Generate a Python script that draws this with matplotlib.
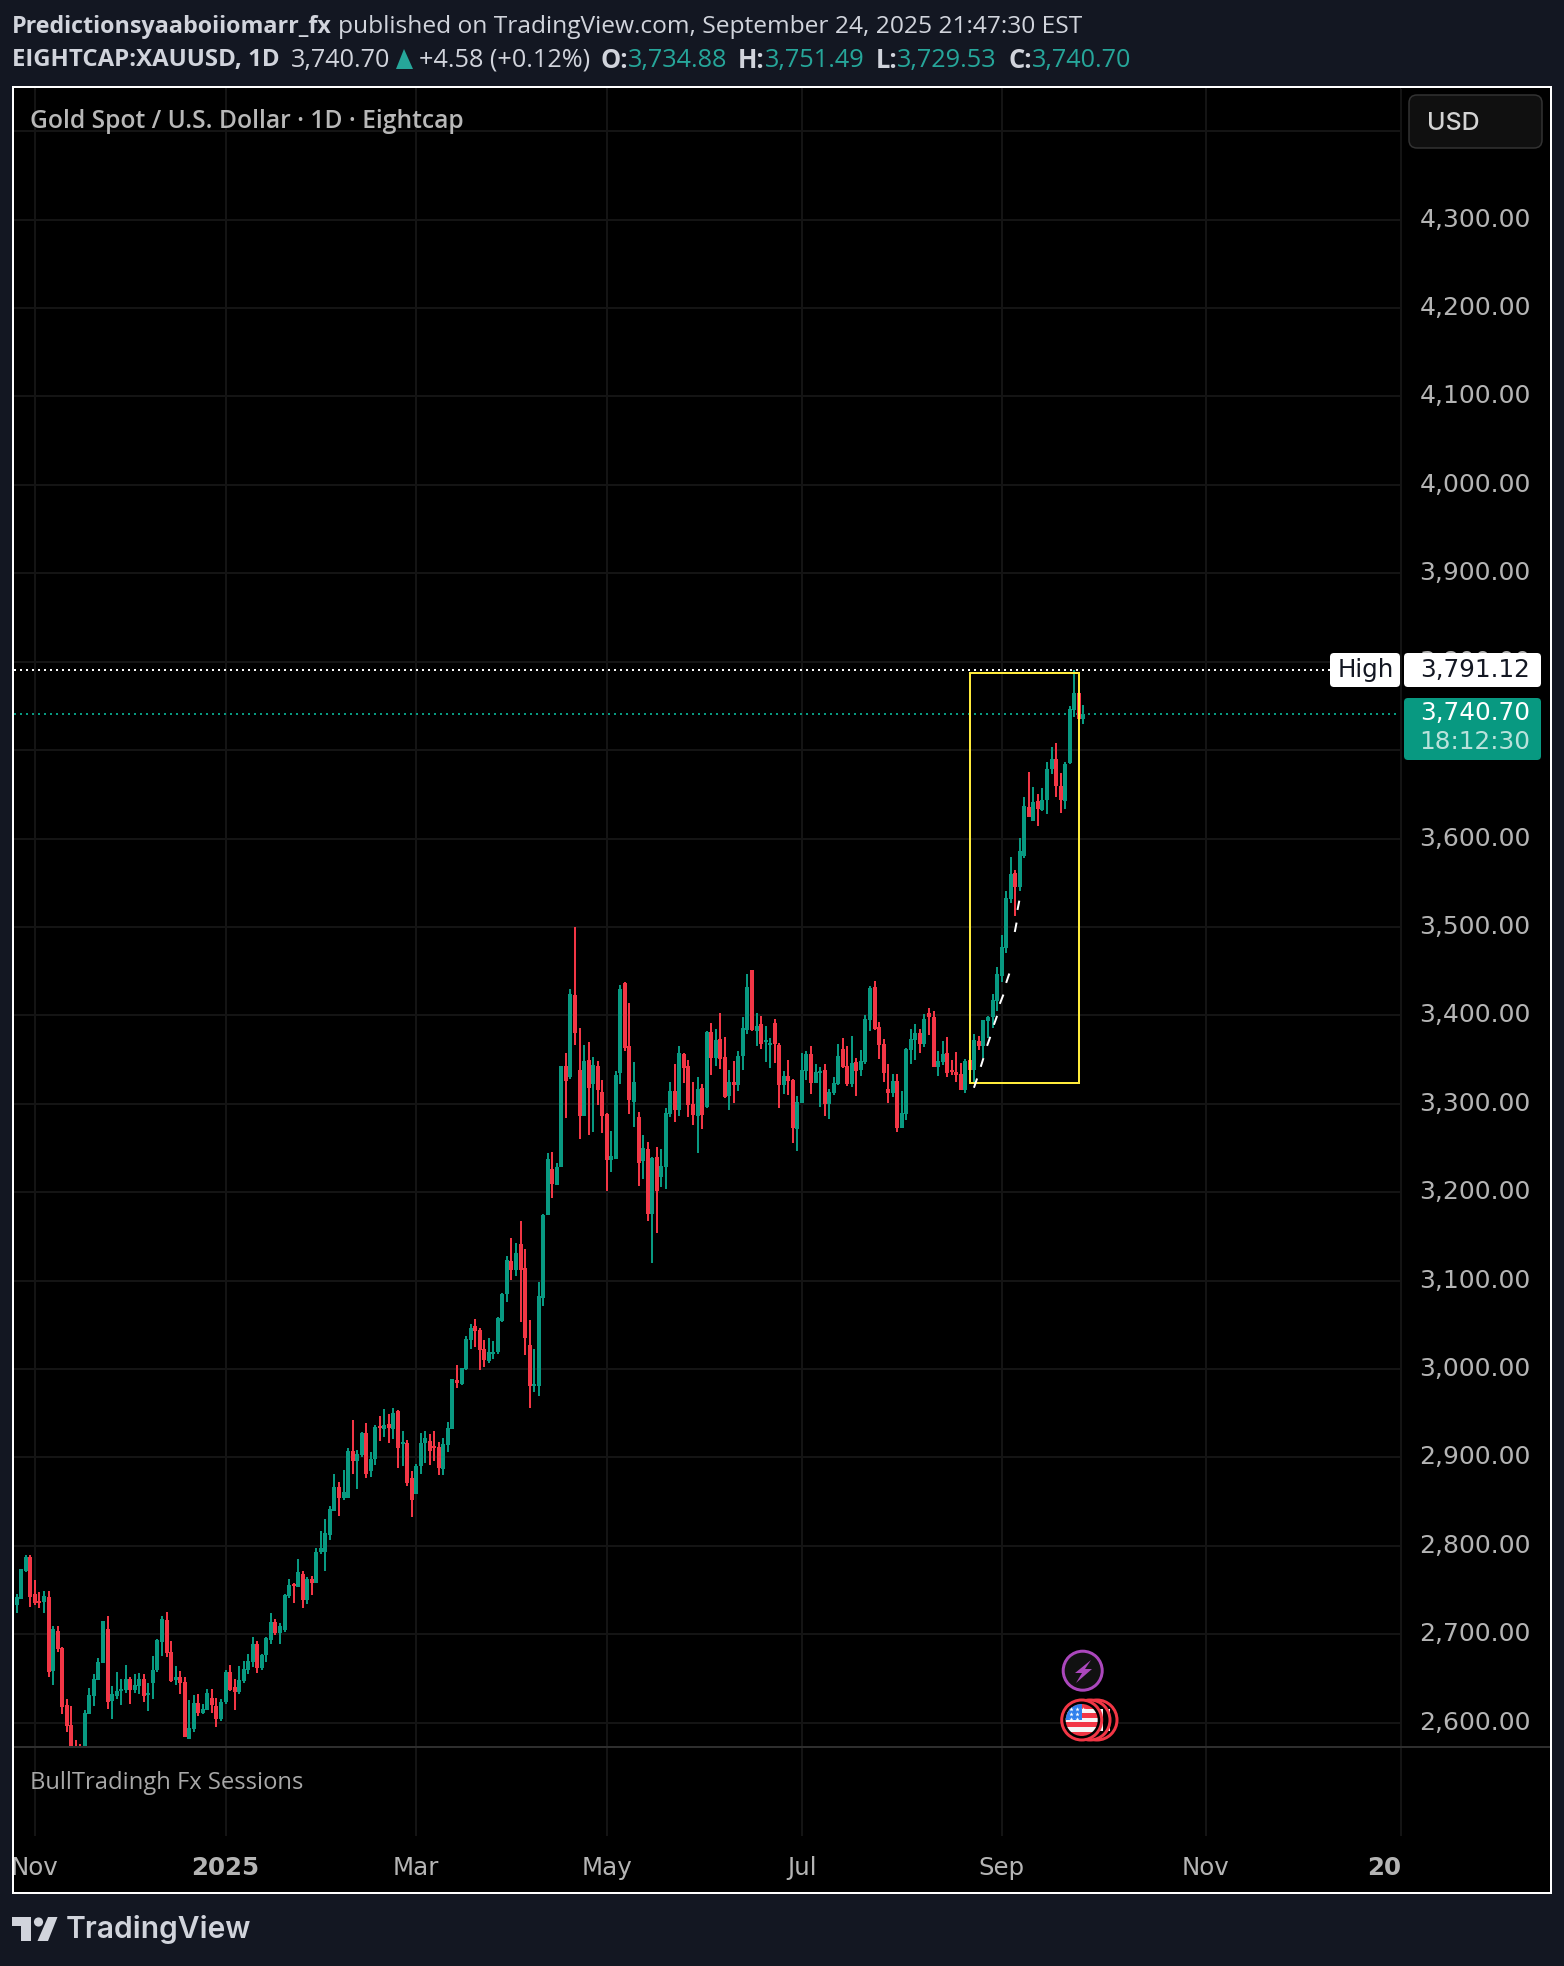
import numpy as np
import matplotlib
matplotlib.use("Agg")
import matplotlib.pyplot as plt
from matplotlib.patches import Rectangle, Circle, Polygon, FancyBboxPatch

W, H = 1564, 1966

opens = [
    2733,2733,2739.7,2771.8,2787.2,2745.4,2737.5,2736.4,2742,2658.4,
    2703.6,2684.4,2620,2597.4,2570,2570,2568,2609.8,2630.2,2648.2,
    2667.4,2705.9,2624.5,2630.2,2635.8,2636.9,2649.4,2636.9,2641.5,2649.4,
    2631.3,2644.8,2659.5,2691.2,2716,2679.9,2648.2,2651.6,2646,2581.6,
    2592.9,2622.3,2611,2614.3,2627.9,2618.9,2604.2,2623.4,2657.3,2640.3,
    2634.7,2647.1,2659.5,2668.6,2688.9,2661.8,2676.5,2693.4,2713.8,2701.3,
    2704.7,2743.1,2756.7,2753.3,2768,2738.6,2762.4,2757.8,2792.9,2792.9,
    2812,2839.4,2866.6,2854.1,2854.1,2907.2,2895.9,2902.7,2927.6,2884.6,
    2898.2,2935.5,2932.1,2937.7,2932.1,2952.4,2915.1,2916.3,2876.7,2858.7,
    2890.3,2916.3,2918.5,2912.9,2911.8,2886.9,2914,2932.1,2987.5,2983,
    3000,3032.6,3048.5,3044,3022.5,3008.9,3016.8,3019.1,3054.1,3084.6,
    3121.9,3111.7,3141.1,3114,3027,2980.7,2980.7,3080.1,3173.9,3225.8,
    3207.8,3228.4,3342.5,3330.1,3422.7,3338,3286,3349.3,3322.2,3342.5,
    3313.1,3288.3,3236.3,3237.5,3334.6,3436.3,3365.1,3301.8,3284.9,3235.2,
    3248.4,3175,3239.4,3216.8,3228.4,3288.3,3314.3,3292.8,3356,3342.5,
    3299.6,3286,3317.7,3296.2,3380.9,3351.5,3373,3352.7,3308.6,3324.4,
    3321,3353.8,3383.2,3450.9,3382,3389.9,3369.6,3366.2,3391.1,3366.2,
    3321,3331.2,3326.7,3271.4,3300.7,3336.9,3356,3323.3,3334.6,3338,
    3299.6,3312,3322.2,3361.7,3342.5,3322.2,3347,3338,3347,3394.5,
    3431.7,3386.6,3367.4,3316.5,3312,3325.6,3272.5,3288.3,3360.6,3371.9,
    3379.8,3367.4,3402.4,3397.9,3341.4,3347.1,3357.3,3338,3335.8,3333.5,
    3315.5,3349.4,3338,3370.8,3365.2,3393.4,3397.9,3416,3444.2,3475.9,
    3531.3,3560.6,3544.8,3579.8,3635.2,3619.4,3642,3631.8,3643.1,3678.1,
    3689.4,3658.9,3642,3684.9,3744.8,3764,3734.88,
]
highs = [
    2746,2745.4,2773.6,2789.5,2789.5,2761.2,2747.3,2748.8,2748.8,2709.2,
    2709.2,2685.5,2626.8,2618.9,2580.4,2575.9,2614.3,2639.2,2655,2673.1,
    2714.9,2720.5,2641.5,2657.3,2649.4,2665.2,2651.6,2655,2656.1,2655,
    2644.8,2675.4,2694.6,2720.5,2725.1,2692.3,2664,2658.4,2651.6,2625.6,
    2631.3,2632.4,2621.1,2638.1,2638.1,2627.9,2626.8,2659.5,2665.2,2649.4,
    2664,2669.7,2677.6,2696.8,2692.3,2677.6,2696.8,2724,2717.2,2712.6,
    2745.4,2762.4,2757.8,2784.9,2771.4,2764.6,2765.7,2797.4,2816.6,2830.1,
    2844.8,2881.3,2872.2,2885.8,2910.6,2942.3,2908.4,2928.7,2938.9,2906.1,
    2936.6,2946.8,2954.7,2949,2955.8,2953.6,2929.8,2919.7,2884.6,2892.6,
    2927.6,2929.8,2926.4,2929.8,2917.4,2921.9,2940,2988.6,3004.4,3001,
    3037.2,3050.7,3056.4,3046.2,3032.6,3034.9,3031.5,3058.6,3085.8,3127.6,
    3147.9,3142.2,3167.1,3135.5,3055.2,3022.5,3098.2,3175,3243.9,3245,
    3232.6,3342.5,3357.2,3429.5,3499.5,3385.4,3366.2,3369.6,3352.7,3348.2,
    3326.7,3289.4,3269.1,3336.9,3434,3437.4,3413.7,3347,3290.5,3264.6,
    3256.3,3239.7,3250.7,3248.4,3295,3324.4,3344.8,3365.1,3357.2,3349.3,
    3324.4,3330.1,3322.2,3382,3391.1,3384.3,3402.4,3375.3,3338,3348.2,
    3359.4,3397.8,3446.4,3450.9,3402.4,3399,3387.7,3374.1,3395.6,3368.5,
    3336.9,3349.3,3327.8,3308.6,3357.2,3359.4,3365.1,3344.8,3341.4,3344.8,
    3316.5,3330.1,3367.4,3374.1,3365.1,3376.4,3351.5,3360.6,3400.1,3432.9,
    3438.5,3392.2,3373,3344.8,3333.5,3333.5,3314.3,3362.8,3384.3,3389.9,
    3384.3,3401.2,3408.1,3404.7,3359.5,3370.8,3375.3,3349.4,3358.4,3345.9,
    3350.5,3352.7,3378.7,3376.5,3394.5,3399.1,3423.9,3454.4,3490.6,3540.3,
    3578.7,3564,3600.2,3646.5,3674.7,3657.8,3649.9,3656.7,3686,3703,
    3707.5,3673.6,3686,3749.3,3791.12,3778.7,3751.49,
]
lows = [
    2730,2724.3,2739.7,2770.3,2730.7,2733,2729.6,2724,2651.6,2642.6,
    2679.9,2609.8,2589.5,2560,2558,2556,2560,2609.8,2618.9,2648.2,
    2667.4,2615.5,2604.2,2626.8,2620,2633.5,2621.1,2633.5,2632.4,2623.4,
    2613.2,2626.8,2657.3,2675.4,2674.2,2646,2642.6,2632.4,2583.8,2581.6,
    2589.5,2607.6,2609.8,2614.3,2611,2595.1,2601.9,2621.1,2635.8,2614.3,
    2632.4,2644.8,2655,2662.9,2656.1,2659.5,2668.6,2688.9,2699.1,2688.9,
    2702.5,2740.9,2735.2,2753.3,2729.6,2734.1,2744.3,2757.8,2790.6,2771.4,
    2806.4,2839.4,2833.8,2851.9,2854.1,2881.3,2864.3,2900.5,2876.7,2877.9,
    2891.4,2918.5,2923.1,2916.3,2920.8,2888,2890.3,2867.7,2832.7,2858.7,
    2881.3,2893.7,2891.4,2895.9,2880.1,2880.1,2906.1,2932.1,2978.4,2981.8,
    2998.8,3022.5,3024.8,2998.8,3002.1,3006.7,3011.2,3016.8,3053,3075.6,
    3100.4,3104.9,3053,3015.7,2955.8,2973.9,2969.4,3071,3173.9,3193.1,
    3207.8,3228.4,3283.8,3327.8,3366.2,3260.1,3286,3264.6,3268,3298.5,
    3266.8,3201.3,3222.8,3237.5,3322.2,3359.4,3288.3,3273.6,3207,3214.9,
    3167.1,3119.6,3153.5,3205.5,3203.6,3284.9,3279.3,3286,3323.3,3284.9,
    3275.9,3244.2,3271.4,3295,3332.3,3342.5,3339.1,3306.4,3292.8,3300.7,
    3314.3,3338,3378.6,3382,3365.1,3361.7,3347,3340.2,3345.9,3295,
    3310.9,3309.8,3255.5,3246.5,3300.7,3326.7,3310.9,3323.3,3296.2,3286,
    3282.6,3309.8,3321,3340.2,3319.9,3318.8,3308.6,3331.2,3344.8,3382,
    3383.2,3350.4,3324.4,3300.7,3307.5,3268,3272.5,3281.5,3344.8,3349.3,
    3357.2,3364,3377.6,3341.4,3331.3,3343.7,3330.1,3332.4,3324.5,3315.5,
    3312.1,3324.5,3323.4,3360.6,3351.6,3374.2,3385.5,3404.7,3437.5,3470.2,
    3526.7,3512,3540.3,3577.6,3623.9,3619.4,3613.7,3630.7,3627.3,3672.5,
    3646.5,3628.4,3632.9,3683.8,3736.9,3717.7,3729.53,
]
closes = [
    2742,2742,2773.6,2787.2,2742,2735.2,2735.2,2743.1,2657.3,2705.9,
    2683.3,2617.7,2596.3,2568,2562,2562,2611,2631.3,2649.4,2668.6,
    2714.9,2623.4,2632.4,2635.8,2638.1,2649.4,2636.9,2642.6,2649.4,2630.2,
    2633.5,2659.5,2693.4,2717.2,2678.7,2647.1,2651.6,2644.8,2583.8,2594,
    2622.3,2611,2615.5,2633.5,2620,2604.2,2623.4,2657.3,2636.9,2634.7,
    2648.2,2660.7,2669.7,2688.9,2661.8,2676.5,2695.7,2713.8,2701.3,2709.2,
    2744.3,2755.6,2754.4,2770.3,2738.6,2762.4,2757.8,2792.9,2797.4,2814.3,
    2841.4,2866.6,2854.1,2860.9,2907.2,2895.9,2903.9,2927.6,2881.3,2898.2,
    2934.4,2933.2,2936.6,2933.2,2950.2,2910.6,2917.4,2871.1,2851.9,2890.3,
    2916.3,2921.9,2907.2,2910.6,2888,2915.1,2933.2,2988.6,2984.1,3001,
    3033.8,3046.2,3042.8,3021.4,3010,3019.1,3019.1,3057.5,3084.6,3123,
    3111.7,3130.9,3111.7,3034.9,2980.7,2983,3082.4,3173.9,3237.1,3208.9,
    3228.1,3342.5,3325.6,3423.8,3379.8,3286,3348.2,3317.7,3343.6,3315.4,
    3286,3236.3,3240.9,3332.3,3429.5,3362.8,3304.1,3324.4,3233,3249.9,
    3175,3238.3,3201,3229.2,3289.4,3314.3,3292.8,3357.2,3340.2,3298.5,
    3287.2,3316.5,3287.2,3380.9,3351.5,3371.9,3350.4,3307.5,3324.4,3321,
    3353.8,3385.4,3431.7,3383.2,3387.7,3367.4,3371.9,3368.5,3367.4,3321,
    3331.2,3325.6,3272.5,3301.8,3338,3356,3323.3,3335.7,3336.9,3299.6,
    3313.1,3323.3,3353.8,3341.4,3322.2,3345.9,3336.9,3348.2,3395.6,3430.6,
    3384.3,3366.2,3334.6,3312,3325.6,3272.5,3289.4,3361.7,3373,3379.8,
    3367.4,3395.6,3397.9,3341.4,3348.2,3356.1,3334.6,3335.8,3332.4,3315.5,
    3348.2,3338,3372,3365.2,3394.5,3397.9,3417.1,3446.5,3477,3532.4,
    3559.5,3544.8,3585.5,3636.3,3623.9,3640.8,3632.9,3643.1,3678.1,3689.4,
    3658.9,3643.1,3683.8,3745.9,3764,3734.6,3740.70,
]

price_ticks = list(range(2600, 4500, 100))
time_tick_bars = [6, 48, 90, 132, 175, 219, 264, 307]
time_tick_labels = ["Nov", "2025", "Mar", "May", "Jul", "Sep", "Nov", "20"]

high_price = 3791.12
last_price = 3740.70

box_bars = [212, 236]
box_prices = [3323.3, 3787.6]

# white dashes drawn next to the rally: bar, price, bar, price
dash_x0 = [212.9, 214.4, 215.8, 217.3, 218.6, 220.0, 221.9, 222.5]
dash_y0 = [3318.1, 3341.8, 3365.5, 3389.3, 3413.0, 3436.7, 3494.3, 3519.2]
dash_x1 = [213.6, 215.0, 216.5, 218.0, 219.4, 220.7, 222.3, 222.9]
dash_y1 = [3328.6, 3351.6, 3375.7, 3399.4, 3423.5, 3447.3, 3504.9, 3529.7]

BG = "#131722"
GRID = "#141414"
GREEN = "#089981"
RED = "#F23645"
LABEL = "#b4b4b4"
HEAD = "#d1d4dc"
TEAL = "#26a69a"
SANS = "Open Sans"

PANE_L, PANE_R, PANE_T, PANE_B = 14, 1401, 88, 1746.5
SUB_B = 1836
PX = 72 / 100


def rect(l, t, r, b):
    return [l / W, 1 - b / H, (r - l) / W, (b - t) / H]


def price_at(y):
    return 2600 + (1722.7 - y) / 0.8842


def bar_at(x):
    return (x - 330) / 4.54 + 71


fig = plt.figure(figsize=(W / 100, H / 100), dpi=100, facecolor=BG)

# black backing for the framed chart
back = fig.add_axes([0, 0, 1, 1], zorder=0)
back.set_xlim(0, W)
back.set_ylim(H, 0)
back.axis("off")
back.add_patch(Rectangle((13, 87), 1537, 1805, facecolor="black", edgecolor="none"))

ax = fig.add_axes(rect(PANE_L, PANE_T, PANE_R, PANE_B), zorder=1, facecolor="none")
ax.set_xlim(bar_at(PANE_L), bar_at(PANE_R))
ax.set_ylim(price_at(PANE_B), price_at(PANE_T))

bars = np.arange(1, len(opens) + 1)
o = np.array(opens)
c = np.array(closes)
colors = [GREEN if a >= b else RED for a, b in zip(c, o)]

ax.vlines(bars, lows, highs, colors=colors, linewidth=2 * PX, zorder=3)
ax.bar(bars, np.abs(c - o), bottom=np.minimum(o, c), width=0.88, color=colors, linewidth=0, zorder=3)

ax.axhline(high_price, color="white", linestyle=(0, (1, 2)), linewidth=2 * PX, zorder=4)
ax.axhline(last_price, color=GREEN, linestyle=(0, (1, 2)), linewidth=2 * PX, zorder=2)

ax.add_patch(Rectangle((box_bars[0], box_prices[0]), box_bars[1] - box_bars[0], box_prices[1] - box_prices[0],
                       fill=False, edgecolor="#FFEB3B", linewidth=2 * PX, zorder=4))
for x0, y0, x1, y1 in zip(dash_x0, dash_y0, dash_x1, dash_y1):
    ax.plot([x0, x1], [y0, y1], color="white", linewidth=2 * PX, solid_capstyle="butt", zorder=5)

ax.set_yticks(price_ticks)
ax.set_yticklabels(["" if p == 4400 else f"{p:,.2f}" for p in price_ticks], va="center")
ax.yaxis.tick_right()
ax.set_xticks(time_tick_bars)
ax.set_xticklabels([])
ax.grid(True, color=GRID, linewidth=2 * PX)
ax.set_axisbelow(True)
ax.tick_params(axis="both", length=0)
ax.tick_params(axis="y", labelsize=25 * PX, labelcolor=LABEL, pad=18.5 * PX)
for s in ax.spines.values():
    s.set_visible(False)

# lower pane, empty apart from its title and the vertical grid
sub = fig.add_axes(rect(PANE_L, PANE_B, PANE_R, SUB_B), zorder=1, facecolor="none")
sub.set_xlim(ax.get_xlim())
sub.set_yticks([])
sub.set_xticks(time_tick_bars)
sub.set_xticklabels(time_tick_labels)
sub.grid(True, axis="x", color=GRID, linewidth=2 * PX)
sub.tick_params(axis="x", length=0, labelsize=24.5 * PX, labelcolor=LABEL, pad=20 * PX)
for s in sub.spines.values():
    s.set_visible(False)
for lab in sub.get_xticklabels():
    if lab.get_text() in ("2025", "20"):
        lab.set_fontweight("bold")
    if lab.get_text() == "20":
        lab.set_ha("right")

# everything placed by pixel: header, frame, tags, logo
top = fig.add_axes([0, 0, 1, 1], zorder=5, facecolor="none")
top.set_xlim(0, W)
top.set_ylim(H, 0)
top.axis("off")


def label(x, y, s, size, color, ha="left", weight="normal", family=SANS, alpha=None):
    return top.text(x, y, s, fontsize=size * PX, color=color, ha=ha, va="center", fontweight=weight,
                    family=family, alpha=alpha)


def run(x, y, parts):
    # text pieces one after the other on a line
    rend = fig.canvas.get_renderer()
    for s, size, color, weight, gap in parts:
        t = label(x, y, s, size, color, weight=weight)
        x = t.get_window_extent(rend).x1 + gap
    return x


top.plot([PANE_R, PANE_R], [PANE_T + 1, SUB_B], color=GRID, linewidth=2 * PX, solid_capstyle="butt")
top.plot([14, 1550], [PANE_B, PANE_B], color="#2e2e2e", linewidth=2 * PX, solid_capstyle="butt")
top.add_patch(Rectangle((13, 87), 1537.5, 1805.5, fill=False, edgecolor="white", linewidth=2 * PX))

run(12, 27, [("Predictionsyaaboiiomarr_fx", 23.3, HEAD, "bold", 6),
             ("published on TradingView.com, September 24, 2025 21:47:30 EST", 24.5, HEAD, "normal", 0)])
x_end = run(12, 60, [("EIGHTCAP:XAUUSD, 1D", 24, HEAD, "bold", 11), ("3,740.70", 25.3, HEAD, "normal", 5)])
top.add_patch(Polygon([[x_end + 1, 69], [x_end + 9, 49], [x_end + 18, 69]], facecolor=TEAL, edgecolor="none"))
run(x_end + 24, 60, [("+4.58 (+0.12%)", 25.3, HEAD, "normal", 10),
                     ("O:", 25.5, HEAD, "bold", 0), ("3,734.88", 25.3, TEAL, "normal", 11),
                     ("H:", 25.5, HEAD, "bold", 0), ("3,751.49", 25.3, TEAL, "normal", 11),
                     ("L:", 25.5, HEAD, "bold", 0), ("3,729.53", 25.3, TEAL, "normal", 11),
                     ("C:", 25.5, HEAD, "bold", 0), ("3,740.70", 25.3, TEAL, "normal", 0)])

label(30, 122, "Gold Spot / U.S. Dollar · 1D · Eightcap", 24.6, "#b8b8b8", weight="semibold")
label(30, 1783, "BullTradingh Fx Sessions", 23.8, "#a8a8a8", weight="normal")

top.add_patch(FancyBboxPatch((1409, 95), 133, 53, boxstyle="round,pad=0,rounding_size=8",
                             facecolor="#101010", edgecolor="#333333", linewidth=1.5 * PX))
label(1427, 123, "USD", 25, "#d4d4d4", family="Inter", weight="medium")

# high and last price tags
top.add_patch(FancyBboxPatch((1330, 653), 70, 34, boxstyle="round,pad=0,rounding_size=4",
                             facecolor="white", edgecolor="none"))
top.add_patch(FancyBboxPatch((1404, 653), 137, 34, boxstyle="round,pad=0,rounding_size=4",
                             facecolor="white", edgecolor="none"))
label(1366, 670, "High", 24.5, "#131722", ha="center", family="DejaVu Sans")
label(1530, 670, "3,791.12", 24.7, "#131722", ha="right", family="DejaVu Sans")
top.add_patch(FancyBboxPatch((1404, 698), 137, 62, boxstyle="round,pad=0,rounding_size=4",
                             facecolor=GREEN, edgecolor="none"))
label(1530, 713, "3,740.70", 24.7, "white", ha="right", family="DejaVu Sans")
label(1530, 742, "18:12:30", 24.7, "white", ha="right", family="DejaVu Sans", alpha=0.72)

# event icons
PURPLE = "#ab47bc"
top.add_patch(Circle((1082.7, 1670.7), 19.5, facecolor="#111111", edgecolor=PURPLE, linewidth=3 * PX))
top.add_patch(Polygon([[1091, 1660], [1075, 1673], [1082, 1673], [1076, 1683], [1092, 1669], [1085, 1669]],
                      facecolor=PURPLE, edgecolor="none"))
for cx in (1097, 1090):
    top.add_patch(Circle((cx, 1720), 20, facecolor="black", edgecolor=RED, linewidth=3 * PX))
    top.add_patch(Rectangle((cx + 8, 1709), 5, 22, facecolor="#f6f6f6", edgecolor="none"))
top.add_patch(Circle((1081.7, 1720), 20, facecolor="black", edgecolor=RED, linewidth=3 * PX))
clip = Circle((1081.7, 1720), 16, transform=top.transData)
for i in range(7):
    s = top.add_patch(Rectangle((1064, 1704 + i * 4.6), 36, 4.6, facecolor=RED if i % 2 == 0 else "#f6f6f6",
                                edgecolor="none"))
    s.set_clip_path(clip)
s = top.add_patch(Rectangle((1064, 1703), 18, 17, facecolor="#2f80ed", edgecolor="none"))
s.set_clip_path(clip)
star_x = [1071, 1077, 1071, 1077, 1071, 1077, 1083]
star_y = [1709, 1709, 1714, 1714, 1719, 1719, 1709]
top.scatter(star_x, star_y, marker="*", s=11, color="white", linewidth=0, zorder=6)

# TradingView logo
LOGO = "#d1d4dc"
top.add_patch(Polygon([[12, 1917], [31, 1917], [31, 1941], [21, 1941], [21, 1926], [12, 1926]],
                      facecolor=LOGO, edgecolor="none"))
top.add_patch(Circle((38.5, 1922), 4.6, facecolor=LOGO, edgecolor="none"))
top.add_patch(Polygon([[48, 1917], [57.5, 1917], [48, 1941], [37.5, 1941]], facecolor=LOGO, edgecolor="none"))
label(66, 1929, "TradingView", 30, LOGO, family="Inter", weight="semibold")

fig.savefig("out.png", dpi=100, facecolor=BG)
